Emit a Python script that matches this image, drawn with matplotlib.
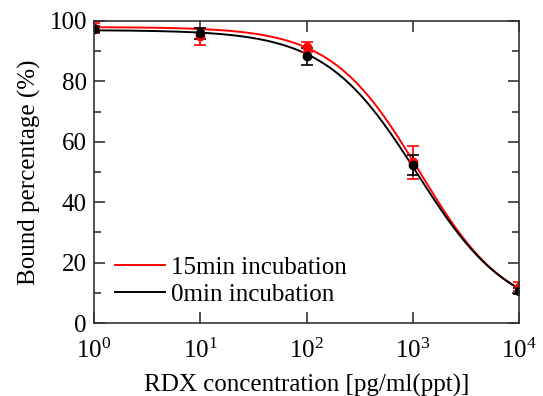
import numpy as np
import matplotlib
matplotlib.use('Agg')
import matplotlib.pyplot as plt
from matplotlib.ticker import MultipleLocator, LogLocator, NullLocator

plt.rcParams['font.family'] = 'Liberation Serif'
plt.rcParams['mathtext.fontset'] = 'custom'
plt.rcParams['mathtext.rm'] = 'Liberation Serif'
plt.rcParams['mathtext.it'] = 'Liberation Serif:italic'
plt.rcParams['font.size'] = 18

# measured points
conc = [1, 10, 100, 1000, 10000]
bound_15 = [97.7, 94.9, 91.4, 53.2, 12.1]
err_15 = [1.6, 2.9, 1.6, 5.4, 1.5]
bound_0 = [97.3, 96.0, 88.3, 52.4, 10.7]
err_0 = [1.0, 1.8, 2.9, 3.4, 1.0]

# fitted 4-parameter logistic (top, bottom, IC50, hill)
fit_15 = [98.0, 2.5, 1150.0, 1.05]
fit_0 = [97.0, 2.0, 1100.0, 1.0]


def logistic(x, p):
    top, bottom, c, h = p
    return bottom + (top - bottom) / (1 + (x / c) ** h)


xs = np.logspace(0, 4, 300)

fig = plt.figure(figsize=(5.43, 3.96), dpi=100)
ax = fig.add_axes([0.173, 0.184, 0.783, 0.763])

ax.plot(xs, logistic(xs, fit_15), color='red', lw=1.4, label='15min incubation')
ax.plot(xs, logistic(xs, fit_0), color='black', lw=1.4, label='0min incubation')
ax.errorbar(conc, bound_15, yerr=err_15, fmt='o', color='red', ms=6,
            capsize=4, elinewidth=1.2, capthick=1.2)
ax.errorbar(conc, bound_0, yerr=err_0, fmt='o', color='black', ms=6,
            capsize=4, elinewidth=1.2, capthick=1.2)

ax.set_xscale('log')
ax.set_xlim(1, 10000)
ax.set_ylim(0, 100)
ax.xaxis.set_major_locator(LogLocator(base=10, numticks=10))
ax.xaxis.set_minor_locator(NullLocator())
ax.yaxis.set_major_locator(MultipleLocator(20))
ax.yaxis.set_minor_locator(MultipleLocator(10))
ax.tick_params(which='both', direction='in', top=True, right=True, width=1.2,
               color='#333333')
ax.tick_params(which='major', length=8)
ax.tick_params(axis='x', which='major', pad=11)
ax.tick_params(axis='y', which='major', pad=5)
ax.tick_params(which='minor', length=5)
for s in ax.spines.values():
    s.set_linewidth(1.2)
    s.set_color('#333333')

ax.set_xlabel('RDX concentration [pg/ml(ppt)]', labelpad=8)
ax.set_ylabel('Bound percentage (%)', labelpad=6)

ax.legend(loc='lower left', frameon=False, handlelength=2.0, handletextpad=0.25,
          labelspacing=0.18, borderaxespad=0.0, bbox_to_anchor=(0.025, 0.025))

fig.savefig('out.png', dpi=100)
